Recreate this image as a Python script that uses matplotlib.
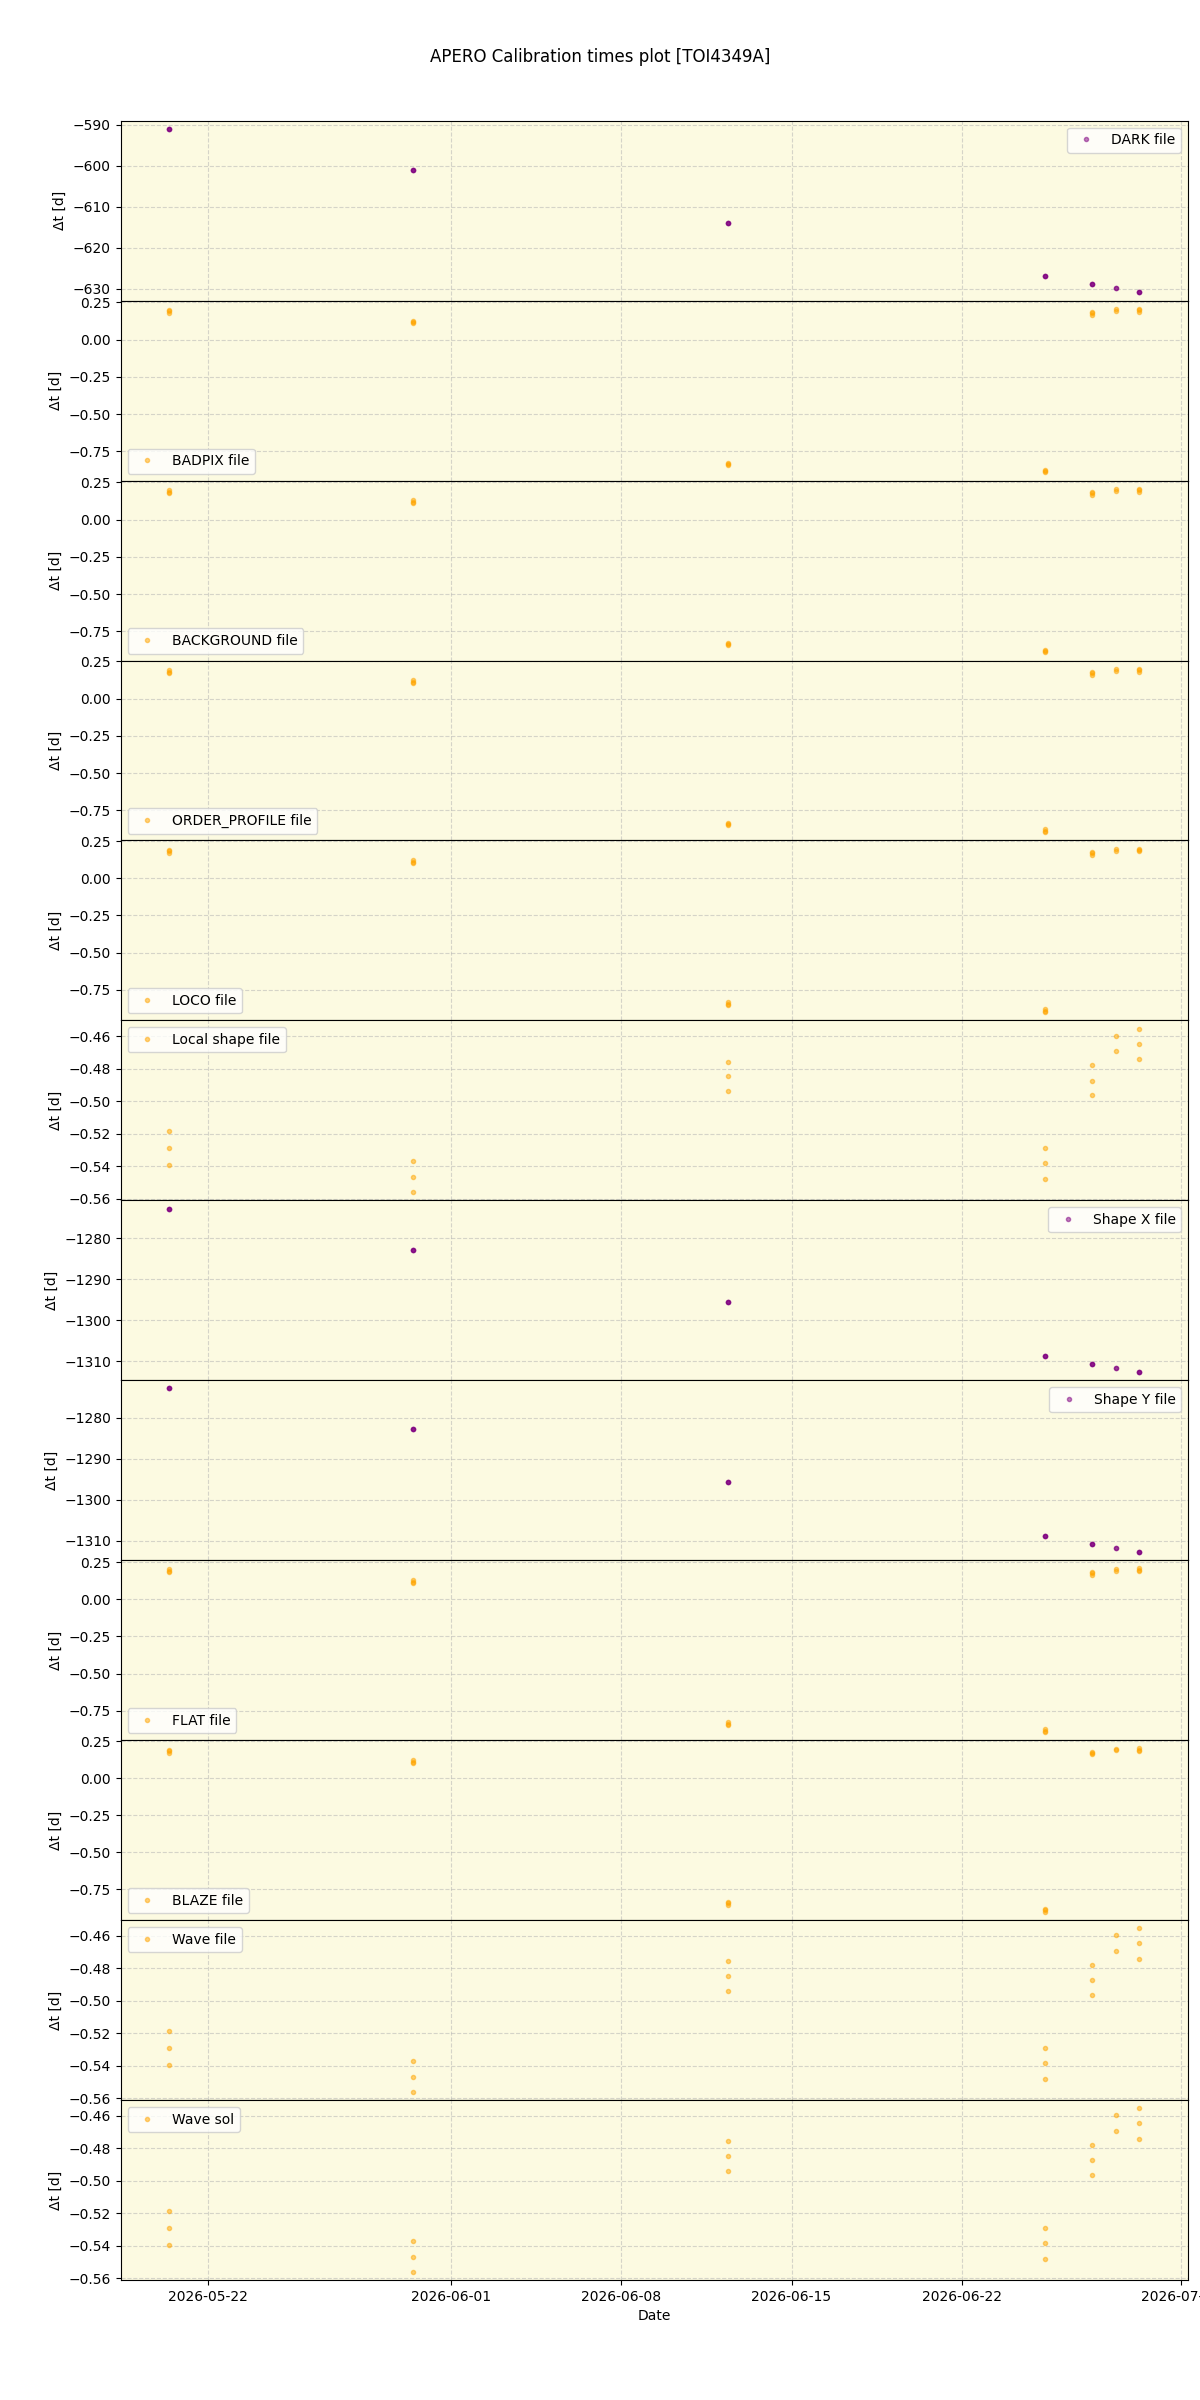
import numpy as np
import pandas as pd
import matplotlib
matplotlib.use("Agg")
import matplotlib.pyplot as plt

# observation nights and number of science files per night
night_dates = pd.to_datetime(["2026-05-20 10:13", "2026-05-30 10:19", "2026-06-12 08:53",
                              "2026-06-25 09:36", "2026-06-27 07:55", "2026-06-28 07:41",
                              "2026-06-29 07:12"])
files_per_night = [3, 3, 3, 3, 3, 2, 3]

# delta t [d] for each science file (calib time - obs time)
dark = [-591.0, -591.0, -591.0, -601.0, -601.0, -601.0, -613.9, -613.9, -613.9,
        -627.0, -627.0, -627.0, -628.9, -628.9, -628.9, -629.9, -629.9,
        -630.9, -630.9, -630.9]
badpix = [0.200, 0.190, 0.180, 0.128, 0.118, 0.109, -0.827, -0.836, -0.845,
          -0.873, -0.882, -0.892, 0.185, 0.176, 0.166, 0.203, 0.193,
          0.207, 0.198, 0.188]
background = [0.197, 0.187, 0.177, 0.129, 0.119, 0.110, -0.827, -0.836, -0.845,
              -0.873, -0.882, -0.892, 0.185, 0.176, 0.166, 0.203, 0.193,
              0.207, 0.198, 0.188]
order_profile = [0.192, 0.182, 0.172, 0.123, 0.113, 0.104, -0.833, -0.842, -0.851,
                 -0.879, -0.888, -0.898, 0.179, 0.170, 0.160, 0.197, 0.187,
                 0.201, 0.192, 0.182]
loco = [0.192, 0.182, 0.172, 0.122, 0.112, 0.103, -0.836, -0.845, -0.854,
        -0.884, -0.893, -0.903, 0.179, 0.170, 0.160, 0.197, 0.187,
        0.201, 0.192, 0.182]
local_shape = [-0.5186, -0.5289, -0.5395, -0.5370, -0.5469, -0.5561,
               -0.4756, -0.4848, -0.4940, -0.5291, -0.5383, -0.5481,
               -0.4780, -0.4873, -0.4965, -0.4596, -0.4694,
               -0.4553, -0.4645, -0.4743]
shape_x = [-1272.7, -1272.7, -1272.7, -1282.7, -1282.7, -1282.7, -1295.6, -1295.6, -1295.6,
           -1308.7, -1308.7, -1308.7, -1310.6, -1310.6, -1310.6, -1311.6, -1311.6,
           -1312.6, -1312.6, -1312.6]
shape_y = [-1272.9, -1272.9, -1272.9, -1282.9, -1282.9, -1282.9, -1295.8, -1295.8, -1295.8,
           -1308.9, -1308.9, -1308.9, -1310.8, -1310.8, -1310.8, -1311.8, -1311.8,
           -1312.8, -1312.8, -1312.8]
flat = [0.200, 0.190, 0.180, 0.128, 0.118, 0.109, -0.827, -0.836, -0.845,
        -0.873, -0.882, -0.892, 0.185, 0.176, 0.166, 0.203, 0.193,
        0.207, 0.198, 0.188]
blaze = [0.192, 0.182, 0.172, 0.122, 0.112, 0.103, -0.836, -0.845, -0.854,
         -0.884, -0.893, -0.903, 0.179, 0.170, 0.160, 0.197, 0.187,
         0.201, 0.192, 0.182]
wave_file = local_shape
wave_sol = local_shape

labels = ["DARK file", "BADPIX file", "BACKGROUND file", "ORDER_PROFILE file", "LOCO file",
          "Local shape file", "Shape X file", "Shape Y file", "FLAT file", "BLAZE file",
          "Wave file", "Wave sol"]
series = [dark, badpix, background, order_profile, loco, local_shape,
          shape_x, shape_y, flat, blaze, wave_file, wave_sol]
colors = ["purple", "orange", "orange", "orange", "orange", "orange",
          "purple", "purple", "orange", "orange", "orange", "orange"]
legend_loc = ["upper right", "lower left", "lower left", "lower left", "lower left",
              "upper left", "upper right", "upper right", "lower left", "lower left",
              "upper left", "upper left"]

x = np.repeat(night_dates.values, files_per_night)

fig, axes = plt.subplots(12, 1, figsize=(12, 24), dpi=100, sharex=True)
fig.subplots_adjust(left=0.1006, right=0.99, top=0.9497, bottom=0.05, hspace=0)

for ax, y, lab, c, loc in zip(axes, series, labels, colors, legend_loc):
    ax.plot(x, y, ".", color=c, alpha=0.5, label=lab)
    ax.set_facecolor("#fcfae1")
    ax.grid(True, linestyle="--", alpha=0.5)
    ax.set_ylabel("Δt [d]")
    ax.legend(loc=loc)

axes[-1].set_xlabel("Date")
fig.suptitle("APERO Calibration times plot [TOI4349A]")

fig.savefig("out.png")
